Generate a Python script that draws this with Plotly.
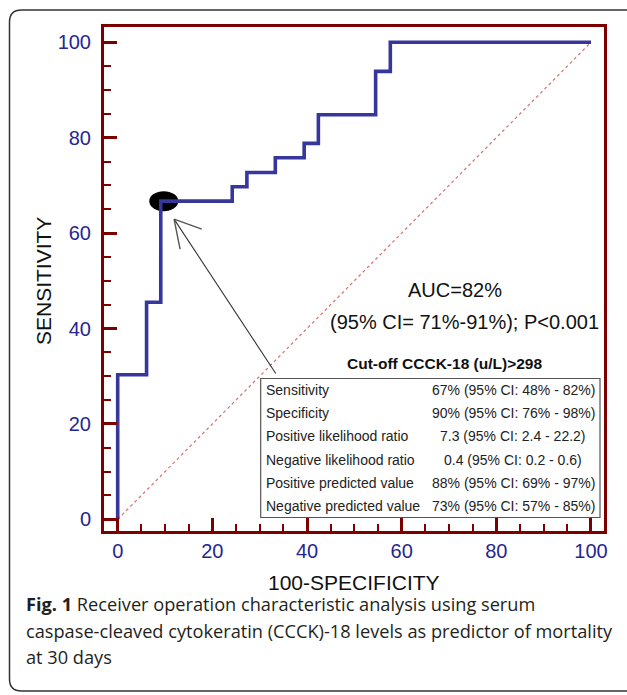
import plotly.graph_objects as go

W, H = 627, 695

# ---------------- data ----------------
# ROC curve corner points: 100-Specificity (%) and Sensitivity (%)
roc_fpr = [0, 6.1, 9.1, 24.2, 27.3, 33.3, 39.4, 42.4, 54.5, 57.6, 100]
roc_sens = [0, 30.3, 45.5, 66.7, 69.7, 72.7, 75.8, 78.8, 84.8, 93.9, 100]
diag_x = [0, 100]
diag_y = [0, 100]
cutoff_fpr = 9.1
cutoff_sens = 66.7
tick_vals = [0, 20, 40, 60, 80, 100]
tick_text = ["0", "20", "40", "60", "80", "100"]

auc_text = "AUC=82%"
ci_text = "(95% CI= 71%-91%); P<0.001"
cutoff_title = "Cut-off CCCK-18 (u/L)>298"
stat_names = ["Sensitivity", "Specificity", "Positive likelihood ratio",
              "Negative likelihood ratio", "Positive predicted value",
              "Negative predicted value"]
stat_values = ["67% (95% CI: 48% - 82%)", "90% (95% CI: 76% - 98%)",
               "7.3 (95% CI: 2.4 - 22.2)", "0.4 (95% CI: 0.2 - 0.6)",
               "88% (95% CI: 69% - 97%)", "73% (95% CI: 57% - 85%)"]
x_title = "100-SPECIFICITY"
y_title = "SENSITIVITY"
caption_lines = ["<b>Fig. 1</b> Receiver operation characteristic analysis using serum",
                 "caspase-cleaved cytokeratin (CCCK)-18 levels as predictor of mortality",
                 "at 30 days"]

# ---------------- styles ----------------
FRAME = "#7d0000"
TICKLAB = "#262691"
CURVE = "#36369c"
ARIAL = "Arial, Liberation Sans, sans-serif"


def px(x):
    return x / W


def py(y):
    return 1 - y / H


fig = go.Figure()

fig.add_trace(go.Scatter(x=diag_x, y=diag_y, mode="lines",
                         line=dict(color="#d27070", width=1.2, dash="dot"),
                         hoverinfo="skip", showlegend=False))
fig.add_trace(go.Scatter(x=roc_fpr, y=roc_sens, mode="lines",
                         line=dict(color=CURVE, width=3.6, shape="vh"),
                         showlegend=False))

axis_common = dict(
    showline=True, linecolor=FRAME, linewidth=3, mirror=True,
    ticks="inside", ticklen=13, tickwidth=3, tickcolor=FRAME,
    tickmode="array", tickvals=tick_vals, ticktext=tick_text,
    tickfont=dict(family=ARIAL, size=20, color=TICKLAB),
    showgrid=False, zeroline=False, automargin=False, fixedrange=True,
    minor=dict(ticks="inside", tick0=0, dtick=5, ticklen=7, tickwidth=2,
               tickcolor=FRAME, showgrid=False),
)

fig.update_layout(
    width=W, height=H,
    margin=dict(l=0, r=0, t=0, b=0, autoexpand=False),
    paper_bgcolor="white", plot_bgcolor="white",
    xaxis=dict(domain=[104 / W, 604 / W], range=[-2.894, 102.75],
               ticklabelstandoff=0, **axis_common),
    yaxis=dict(domain=[1 - 531 / H, 1 - 27.3 / H], range=[-2.45, 103.14],
               ticklabelstandoff=6, **axis_common),
    showlegend=False,
)

shapes = []
# outer rounded frame (page crop)
x0, x1 = px(9.5), px(660)
yt, yb = py(10), py(691)
rx, ry = 12 / W, 12 / H
shapes.append(dict(
    type="path", xref="paper", yref="paper",
    path=(f"M{x1},{yt} L{x0 + rx},{yt} Q{x0},{yt} {x0},{yt - ry} "
          f"L{x0},{yb + ry} Q{x0},{yb} {x0 + rx},{yb} L{x1},{yb}"),
    line=dict(color="#333333", width=1.5)))

# cut-off marker ellipse
shapes.append(dict(type="circle", xref="x", yref="y",
                   xsizemode="pixel", ysizemode="pixel",
                   xanchor=cutoff_fpr, yanchor=cutoff_sens,
                   x0=-11.5, x1=17.5, y0=-10, y1=10,
                   fillcolor="black", line=dict(color="black", width=0),
                   layer="below"))

# arrow pointing at the cut-off (pixel offsets from the cut-off point)
tip = (13.3, -18)
for end, col, w in [((115, -172.3), "#333333", 1.1),
                    ((41, -28), "#555555", 1.4),
                    ((19.3, -48), "#555555", 1.4)]:
    shapes.append(dict(type="line", xref="x", yref="y",
                       xsizemode="pixel", ysizemode="pixel",
                       xanchor=cutoff_fpr, yanchor=cutoff_sens,
                       x0=tip[0], y0=tip[1], x1=end[0], y1=end[1],
                       line=dict(color=col, width=w)))

# statistics box
shapes.append(dict(type="rect", xref="paper", yref="paper",
                   x0=px(260.7), x1=px(600), y0=py(378.5), y1=py(517.5),
                   line=dict(color="#555555", width=1.2)))
fig.update_layout(shapes=shapes)

ann = []


def text(s, x, y, size, xanchor="center", bold=False, color="#111111",
         family=ARIAL):
    ann.append(dict(text=f"<b>{s}</b>" if bold else s, x=px(x), y=py(y),
                    xref="paper", yref="paper", xanchor=xanchor,
                    yanchor="middle", showarrow=False,
                    font=dict(family=family, size=size, color=color)))


text(auc_text, 455, 290, 20)
text(ci_text, 464, 322, 20)
text(cutoff_title, 444.5, 363, 15.5, bold=True)
for i, (n, v) in enumerate(zip(stat_names, stat_values)):
    yrow = 390 + 23.2 * i
    text(n, 263.5, yrow, 14, xanchor="left", color="#222222")
    text(v, 513, yrow, 14, color="#222222")

text(x_title, 354, 582, 21)
ann.append(dict(text=y_title, x=px(43), y=py(281), xref="paper", yref="paper",
                textangle=-90, showarrow=False, xanchor="center",
                yanchor="middle", font=dict(family=ARIAL, size=21,
                                            color="#111111")))

for i, line in enumerate(caption_lines):
    text(line, 23.5, 604 + 26.5 * i, 18.2, xanchor="left",
         color="#231f20", family="Open Sans")
fig.update_layout(annotations=ann)

fig.write_html("out.html",
               config={"displayModeBar": False, "staticPlot": False},
               post_script="document.body.style.margin='0';"
                           "document.body.style.overflow='hidden';")
